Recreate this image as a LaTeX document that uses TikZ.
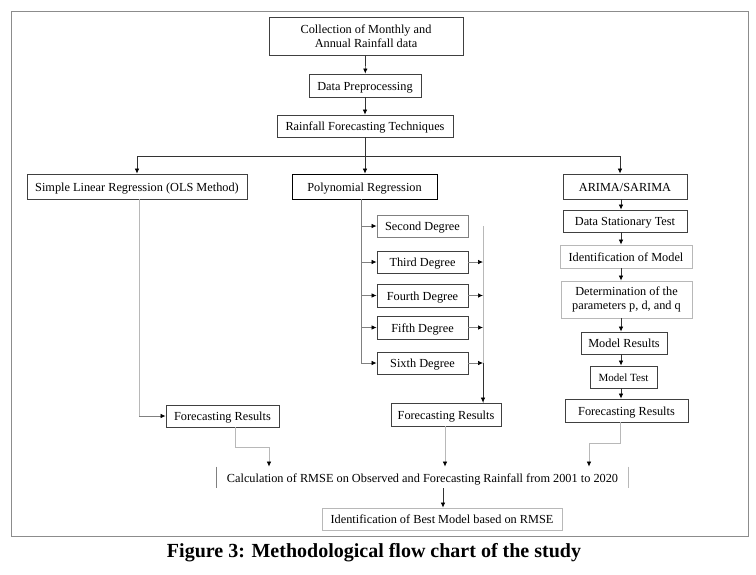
\documentclass[tikz,border=0pt]{standalone}
\usepackage{fontspec}
\setmainfont{Liberation Serif}
\usetikzlibrary{arrows.meta}
\definecolor{frame}{gray}{0.55}
\definecolor{dk}{gray}{0.25}
\definecolor{lt}{gray}{0.72}
\tikzset{
  basebox/.style={draw=dk, line width=0.9pt, inner sep=0pt, align=center, font=\fontsize{12.3}{14.5}\selectfont},
  box/.style={basebox, text height=1.1em, text depth=0.2em},
  mbox/.style={basebox},
  lbox/.style={box, draw=lt},
  arr/.style={draw=black!80, line width=0.7pt, -{Latex[length=5pt,width=4.5pt,color=black]}},
  gline/.style={draw=lt, line width=0.7pt},
  garr/.style={gline, -{Latex[length=5pt,width=4.5pt,color=black]}},
}
\begin{document}
\begin{tikzpicture}[x=1pt,y=-1pt]
\useasboundingbox (0,0) rectangle (756,574);
\draw[frame, line width=0.9pt] (11,11) rectangle (748,536);

\node[mbox, minimum width=194, minimum height=38] (b1) at (366,36) {Collection of Monthly and\\Annual Rainfall data};
\node[box, minimum width=112, minimum height=23] (b2) at (365,85.5) {Data Preprocessing};
\node[box, minimum width=176, minimum height=22] (b3) at (365,126) {Rainfall Forecasting Techniques};

\node[box, minimum width=220, minimum height=25] (slr) at (137,186.5) {Simple Linear Regression (OLS Method)};
\node[box, draw=black, minimum width=145, minimum height=25] (poly) at (364.5,186.5) {Polynomial Regression};
\node[box, minimum width=124, minimum height=25] (arima) at (625,186.5) {ARIMA/SARIMA};

\node[box, minimum width=124, minimum height=22] (dst) at (625,221) {Data Stationary Test};
\node[lbox, minimum width=132, minimum height=23] (idm) at (626,256.5) {Identification of Model};
\node[mbox, draw=lt, minimum width=131, minimum height=37] (det) at (626.5,299.5) {Determination of the\\parameters p, d, and q};
\node[box, minimum width=86, minimum height=22] (mr) at (624,343) {Model Results};
\node[box, minimum width=67, minimum height=22, font=\fontsize{11}{13}\selectfont] (mt) at (623.5,377) {Model Test};
\node[box, minimum width=123, minimum height=23] (fr3) at (626.5,410.5) {Forecasting Results};

\node[box, draw=gray, minimum width=91, minimum height=22] (d2) at (422.5,226) {Second Degree};
\node[box, minimum width=91, minimum height=22] (d3) at (422.5,262) {Third Degree};
\node[box, minimum width=91, minimum height=23] (d4) at (422.5,295.5) {Fourth Degree};
\node[box, minimum width=91, minimum height=23] (d5) at (422.5,327.5) {Fifth Degree};
\node[box, minimum width=91, minimum height=22] (d6) at (422.5,363) {Sixth Degree};

\node[box, minimum width=110, minimum height=23] (fr2) at (446,414.5) {Forecasting Results};
\node[box, minimum width=113, minimum height=22] (fr1) at (222.5,416) {Forecasting Results};

\node[box, draw=none, minimum width=411, minimum height=21] (calc) at (422.5,477.5) {Calculation of RMSE on Observed and Forecasting Rainfall from 2001 to 2020};
\draw[gline, draw=gray] (calc.north west) -- (calc.south west);
\draw[gline] (calc.north east) -- (calc.south east);
\node[lbox, minimum width=240, minimum height=22] (best) at (442,519) {Identification of Best Model based on RMSE};

\node[font=\bfseries\fontsize{20}{23}\selectfont, inner sep=0pt] (cap) at (374,553) {Figure 3: Methodological flow chart of the study};

% coordinates
\coordinate (cx) at (621,0);
\coordinate (px) at (361,0);
\coordinate (rx) at (483,0);

% top chain
\draw[arr] (b1) -- (b2);
\draw[arr] (b2) -- (b3);
\draw[black!80, line width=0.7pt] (b3.south) -- (365,156) coordinate (hy);
\draw[black!80, line width=0.7pt] (137,156) -- (620,156);
\draw[arr] (137,156) -- (slr.north);
\draw[arr] (hy) -- (poly.north -| hy);
\draw[arr] (620,156) -- (arima.north -| 620,0);

% ARIMA chain
\draw[arr] (arima.south -| cx) -- (dst.north -| cx);
\draw[arr] (dst.south -| cx) -- (idm.north -| cx);
\draw[arr] (idm.south -| cx) -- (det.north -| cx);
\draw[arr] (det.south -| cx) -- (mr.north -| cx);
\draw[arr] (mr.south -| cx) -- (mt.north -| cx);
\draw[arr] (mt.south -| cx) -- (fr3.north -| cx);

% polynomial branches
\draw[gline, draw=gray] (poly.south -| px) -- (d6.west -| px);
\foreach \d in {d2,d3,d4,d5,d6}{
  \draw[arr, draw=gray] (\d.west -| px) -- (\d.west);
}
\draw[gline] (d2 -| rx) -- (fr2.north -| rx);
\draw[arr, draw=black!80] (d6 -| rx) -- (fr2.north -| rx);
\foreach \d in {d3,d4,d5,d6}{
  \draw[arr, draw=gray] (\d.east) -- (\d.east -| rx);
}

% SLR to FR1
\draw[gline] (slr.south -| 139,0) -- (139,416) coordinate (c1);
\draw[arr, draw=gray] (c1) -- (fr1.west);

% outputs to calc
\draw[gline] (fr1.south -| 235,0) -- (235,447) -- (269,447) coordinate (c2);
\draw[garr] (c2) -- (calc.north -| c2);
\draw[garr] (fr2.south -| 445,0) -- (calc.north -| 445,0);
\draw[gline] (fr3.south -| 620,0) -- (620,443) -- (589,443) coordinate (c3);
\draw[garr] (c3) -- (calc.north -| c3);

\draw[arr] (calc.south -| 443,0) -- (best.north -| 443,0);
\end{tikzpicture}
\end{document}
